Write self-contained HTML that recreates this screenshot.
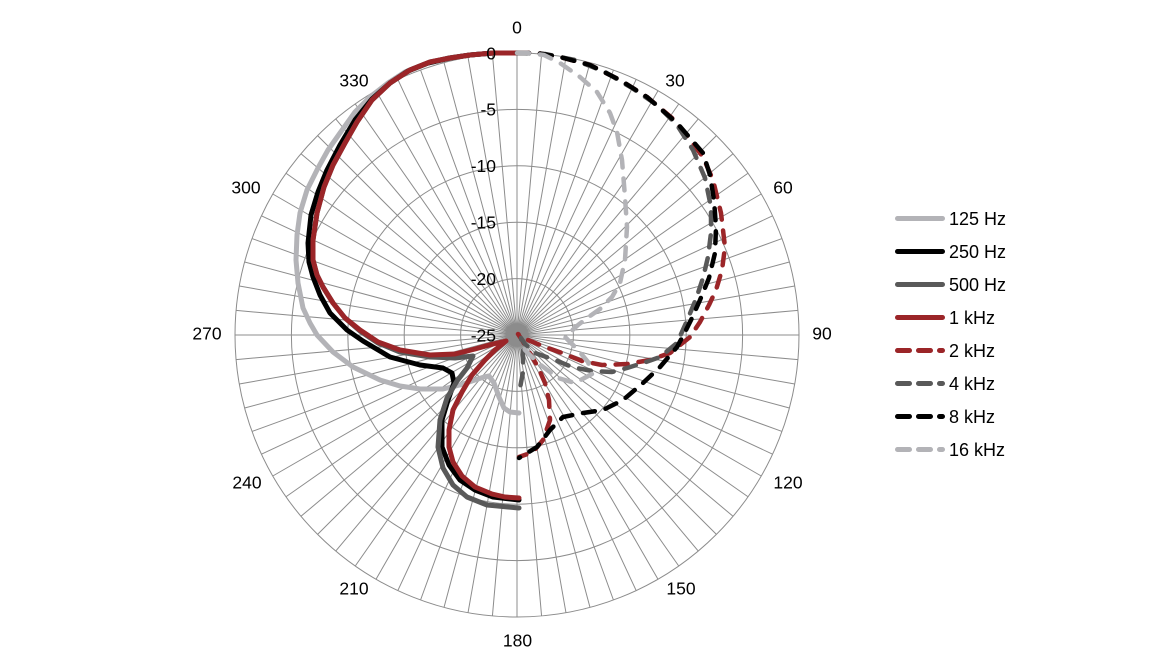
<!DOCTYPE html>
<html><head><meta charset="utf-8"><style>
html,body{margin:0;padding:0;background:#fff;}
svg{display:block;}
text{font-family:"Liberation Sans",Arial,sans-serif;fill:#000;}
</style></head><body>
<svg width="1174" height="667" viewBox="0 0 1174 667" xmlns="http://www.w3.org/2000/svg">
<g stroke="#8c8c8c" stroke-width="1" fill="none">
<circle cx="517" cy="335" r="282"/>
<circle cx="517" cy="335" r="225.6"/>
<circle cx="517" cy="335" r="169.2"/>
<circle cx="517" cy="335" r="112.8"/>
<circle cx="517" cy="335" r="56.4"/>
<path d="M517 53L517 617M541.58 54.07L492.42 615.93M565.97 57.28L468.03 612.72M589.99 62.61L444.01 607.39M613.45 70.01L420.55 599.99M636.18 79.42L397.82 590.58M658 90.78L376 579.22M678.75 104L355.25 566M698.27 118.98L335.73 551.02M716.4 135.6L317.6 534.4M733.02 153.73L300.98 516.27M748 173.25L286 496.75M761.22 194L272.78 476M772.58 215.82L261.42 454.18M781.99 238.55L252.01 431.45M789.39 262.01L244.61 407.99M794.72 286.03L239.28 383.97M797.93 310.42L236.07 359.58M799 335L235 335M797.93 359.58L236.07 310.42M794.72 383.97L239.28 286.03M789.39 407.99L244.61 262.01M781.99 431.45L252.01 238.55M772.58 454.18L261.42 215.82M761.22 476L272.78 194M748 496.75L286 173.25M733.02 516.27L300.98 153.73M716.4 534.4L317.6 135.6M698.27 551.02L335.73 118.98M678.75 566L355.25 104M658 579.22L376 90.78M636.18 590.58L397.82 79.42M613.45 599.99L420.55 70.01M589.99 607.39L444.01 62.61M565.97 612.72L468.03 57.28M541.58 615.93L492.42 54.07"/>
</g>

<g font-size="17.5" text-anchor="middle">
<text x="517" y="33.5">0</text>
<text x="675" y="86.5">30</text>
<text x="783" y="193.5">60</text>
<text x="822" y="339.5">90</text>
<text x="788" y="488.5">120</text>
<text x="681" y="594.5">150</text>
<text x="517.5" y="646.5">180</text>
<text x="354" y="594.5">210</text>
<text x="247" y="488.5">240</text>
<text x="207" y="339.5">270</text>
<text x="246" y="193.5">300</text>
<text x="354" y="86.5">330</text>
</g>

<g fill="none" stroke-linejoin="round" stroke-linecap="round">
<path stroke="#b3b3b7" stroke-width="5" d="M517,53 L493,53 470,55 448,58 425,64 405,72 388,83 370,97 355,112 340,133 328,150 318,168 307,190 300,213 297,235 296,260 298,283 303,308 310,323 317,335 333,352 353,367 380,380 400,386 420,389 443,389 460,385 475,380 484,377 489,376 494,383 499,397 504,408 510,412 519,413"/>
<path stroke="#000" stroke-width="5" d="M517,53 L493,53 470,55 450,58 428,63 408,71 390,83 372,99 355,120 340,145 327,170 318,192 311,215 308,243 309,262 313,277 320,295 330,313 347,330 363,341 390,357 420,365 443,368 452,373 454,383 448,400 442,420 442,447 449,465 460,480 475,490 493,497 519,500"/>
<path stroke="#595959" stroke-width="5" d="M517,53 L493,53 470,55 450,58 430,62 410,70 390,83 372,100 357,122 345,143 333,165 324,187 317,213 313,240 313,260 317,275 323,287 333,303 345,318 360,331 378,343 400,352 430,357 455,358 473,356 467,368 457,381 447,398 440,420 438,447 443,468 453,485 467,497 487,505 519,508"/>
<path stroke="#9b2528" stroke-width="5" d="M517,53 L493,53 470,55 450,58 430,62 410,70 390,83 372,100 357,122 345,143 333,165 324,187 317,213 313,240 313,260 317,275 323,287 333,303 345,318 360,330 378,342 400,350 430,355 455,354 475,349 493,344 506,341 495,350 485,360 472,375 462,392 453,410 449,430 449,447 453,462 462,476 475,487 492,494 505,497 519,498"/>
<path stroke="#9b2528" stroke-width="4.5" stroke-dasharray="12 11" d="M517,53 L537,53 560,57 590,65 620,80 647,97 672,118 690,140 703,157 713,180 721,213 725,247 722,270 716,290 709,305 700,322 690,337 670,353 650,360 627,364 602,365 582,361 562,353 545,347 528,340 518,334 522,340 528,350 538,367 545,383 549,400 550,420 543,440 533,452 519,457"/>
<path stroke="#595959" stroke-width="4.5" stroke-dasharray="12 11" d="M517,53 L545,54 575,60 605,72 632,88 657,105 677,125 693,150 705,178 711,207 711,233 708,257 703,278 696,299 686,323 677,343 660,357 643,363 627,368 612,372 592,371 572,367 555,360 535,353 525,344 521,338 523,350 523,360 523,372 520,388"/>
<path stroke="#000" stroke-width="4.5" stroke-dasharray="12 11" d="M517,53 L537,53 560,57 590,65 620,80 647,97 677,123 703,153 710,175 714,200 716,227 715,253 709,278 700,300 691,320 683,336 677,347 660,367 643,383 623,400 603,410 583,413 563,417 550,430 537,447 519,458"/>
<path stroke="#b3b3b7" stroke-width="4.5" stroke-dasharray="12 11" d="M517,53 L527,53 544,55 560,63 580,77 597,92 610,113 617,132 622,160 625,197 627,227 625,260 620,283 612,297 600,309 590,316 578,325 565,337 578,350 588,362 592,374 575,383 558,378 538,363 525,350 520,340"/>
</g>

<g font-size="17.5" text-anchor="end">
<text x="496" y="59.3">0</text>
<text x="496" y="115.7">-5</text>
<text x="496" y="172.1">-10</text>
<text x="496" y="228.5">-15</text>
<text x="496" y="284.9">-20</text>
<text x="496" y="341.3">-25</text>
</g>

<g fill="none" stroke-linecap="round" stroke-width="5">
<path d="M897.5 218.5H942.5" stroke="#b3b3b7"/>
<path d="M897.5 251.5H942.5" stroke="#000"/>
<path d="M897.5 284.5H942.5" stroke="#595959"/>
<path d="M897.5 317.5H942.5" stroke="#9b2528"/>
<path d="M897.5 350.5H942.5" stroke="#9b2528" stroke-dasharray="12 9"/>
<path d="M897.5 383.5H942.5" stroke="#595959" stroke-dasharray="12 9"/>
<path d="M897.5 416.5H942.5" stroke="#000" stroke-dasharray="12 9"/>
<path d="M897.5 449.5H942.5" stroke="#b3b3b7" stroke-dasharray="12 9"/>
</g>
<g font-size="18">
<text x="949" y="225">125 Hz</text>
<text x="949" y="258">250 Hz</text>
<text x="949" y="291">500 Hz</text>
<text x="949" y="324">1 kHz</text>
<text x="949" y="357">2 kHz</text>
<text x="949" y="390">4 kHz</text>
<text x="949" y="423">8 kHz</text>
<text x="949" y="456">16 kHz</text>
</g>
</svg>
</body></html>
